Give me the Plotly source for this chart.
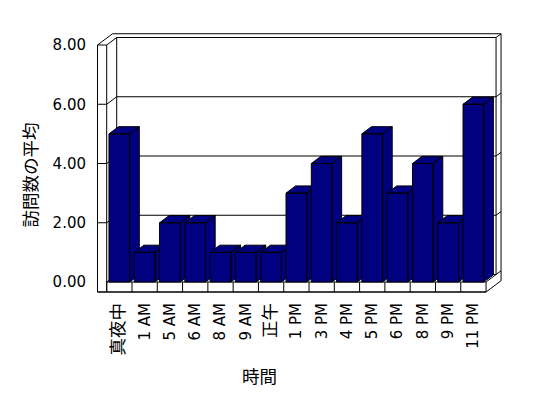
import plotly.graph_objects as go

# ---- data ----
categories = ["真夜中", "1 AM", "5 AM", "6 AM", "8 AM", "9 AM", "正午",
              "1 PM", "3 PM", "4 PM", "5 PM", "6 PM", "8 PM", "9 PM", "11 PM"]
values = [5, 1, 2, 2, 1, 1, 1, 3, 4, 2, 5, 3, 4, 2, 6]
y_ticks = [0, 2, 4, 6, 8]
y_title = "訪問数の平均"
x_title = "時間"

# ---- layout geometry (pixels, page coordinates) ----
BODY = 8                               # default page body margin
FW, FH = 548 - 2 * BODY, 398 - 2 * BODY
PL, PR, PT, PB = 95, 505, 30, 296      # plot area box (page px)
X0 = 106.7                             # left edge of first category (px)
CAT_W = 25.29                          # px per category
Y0 = 282.0                             # baseline (px)
UNIT = 29.625                          # px per value unit
DXP, DYP = 10.0, 7.5                   # interior depth vector (px)
FLOOR_T = 10.0                         # floor thickness (px)
LEFT_WALL_X = 97.5                     # outer left edge of left wall (px)
BAR_W = 0.82
BAR_DXP, BAR_DYP = 9.6, 7.2

def X(px):
    return (px - X0) / CAT_W - 0.5

def Y(py):
    return (Y0 - py) / UNIT

dxd = DXP / CAT_W
dyd = DYP / UNIT
ft = FLOOR_T / UNIT
n = len(categories)
xl, xr = -0.5, n - 0.5
ymax = max(y_ticks)
xw = X(LEFT_WALL_X)
bdx = BAR_DXP / CAT_W
bdy = BAR_DYP / UNIT

NAVY = "#000080"
LINE = dict(color="black", width=1)

shapes = []

def path(pts, closed=False, fill=None):
    d = "M " + " L ".join(f"{x},{y}" for x, y in pts)
    if closed:
        d += " Z"
    s = dict(type="path", path=d, xref="x", yref="y", line=LINE, layer="below")
    if fill:
        s["fillcolor"] = fill
    shapes.append(s)

def seg(a, b):
    path([a, b])

# silhouette of walls + floor
path([(xw, ymax), (xw + 1.5 * dxd, ymax + 1.5 * dyd), (xr + 1.5 * dxd, ymax + 1.5 * dyd),
      (xr + 1.5 * dxd, -ft + 1.5 * dyd), (xr, -ft), (xw, -ft)], closed=True, fill="white")
# back wall front face
path([(xl + dxd, dyd), (xr + dxd, dyd), (xr + dxd, ymax + dyd), (xl + dxd, ymax + dyd)], closed=True)
# top-right corner diagonal
seg((xr + dxd, ymax + dyd), (xr + 1.5 * dxd, ymax + 1.5 * dyd))
# left wall front face
path([(xw, -ft), (xl, -ft), (xl, ymax), (xw, ymax)], closed=True)
# left wall top inner diagonal
seg((xl, ymax), (xl + dxd, ymax + dyd))
# floor front face
path([(xl, -ft), (xr, -ft), (xr, 0), (xl, 0)], closed=True)
for i in range(n - 1):
    seg((i + 0.5, -ft), (i + 0.5, 0))
# floor top edges
seg((xr, 0), (xr + 1.5 * dxd, 1.5 * dyd))
seg((xl, 0), (xl + dxd, dyd))
# gridlines
for v in y_ticks[1:-1]:
    seg((xw, v), (xl, v))                                     # tick on left wall face
    seg((xl, v), (xl + dxd, v + dyd))                          # left wall inner face
    seg((xl + dxd, v + dyd), (xr + dxd, v + dyd))              # back wall
    seg((xr + dxd, v + dyd), (xr + 1.5 * dxd, v + 1.5 * dyd))  # right side

fig = go.Figure()

# 3D bars, drawn left to right so nearer faces overlap correctly
for i, v in enumerate(values):
    l, r = i - BAR_W / 2, i + BAR_W / 2
    side = [(r, 0), (r + bdx, bdy), (r + bdx, v + bdy), (r, v), (r, 0)]
    top = [(l, v), (r, v), (r + bdx, v + bdy), (l + bdx, v + bdy), (l, v)]
    front = [(l, 0), (r, 0), (r, v), (l, v), (l, 0)]
    xs, ys = [], []
    for poly in (side, top, front):
        xs += [p[0] for p in poly] + [None]
        ys += [p[1] for p in poly] + [None]
    fig.add_trace(go.Scatter(x=xs[:-1], y=ys[:-1], mode="lines", fill="toself",
                             fillcolor=NAVY, line=LINE, hoverinfo="skip",
                             showlegend=False))

def tick_text(t):
    if any(ord(c) > 0x3000 for c in t):
        return f'<span style="font-size:17.5px;font-family:\'Noto Sans CJK JP\'">{t}</span>'
    return t

FONT = dict(family="DejaVu Sans", size=15, color="black")

fig.update_layout(
    width=FW, height=FH,
    margin=dict(l=PL - BODY, r=FW - (PR - BODY), t=PT - BODY, b=FH - (PB - BODY), pad=0),
    paper_bgcolor="white", plot_bgcolor="white",
    showlegend=False,
    font=FONT,
    shapes=shapes,
    xaxis=dict(range=[X(PL), X(PR)], tickmode="array",
               tickvals=list(range(n)), ticktext=[tick_text(c) for c in categories],
               tickangle=-90, showgrid=False, zeroline=False, showline=False,
               ticks="", ticklabelstandoff=3, tickfont=FONT, fixedrange=True),
    yaxis=dict(range=[Y(PB), Y(PT)], tickmode="array",
               tickvals=y_ticks, ticktext=[f"{t:.2f}" for t in y_ticks],
               showgrid=False, zeroline=False, showline=False,
               ticks="", ticklabelstandoff=8, tickfont=FONT, fixedrange=True),
    annotations=[
        dict(text=y_title, textangle=-90, xref="paper", yref="paper",
             x=(28.5 - PL) / (PR - PL), y=(PB - 175) / (PB - PT),
             xanchor="center", yanchor="middle", showarrow=False,
             font=dict(family="Noto Sans CJK JP", size=17.5, color="black")),
        dict(text=x_title, xref="paper", yref="paper",
             x=(259.5 - PL) / (PR - PL), y=(PB - 375.5) / (PB - PT),
             xanchor="center", yanchor="middle", showarrow=False,
             font=dict(family="Noto Sans CJK JP", size=17.5, color="black")),
    ],
)

fig.write_html("out.html")
